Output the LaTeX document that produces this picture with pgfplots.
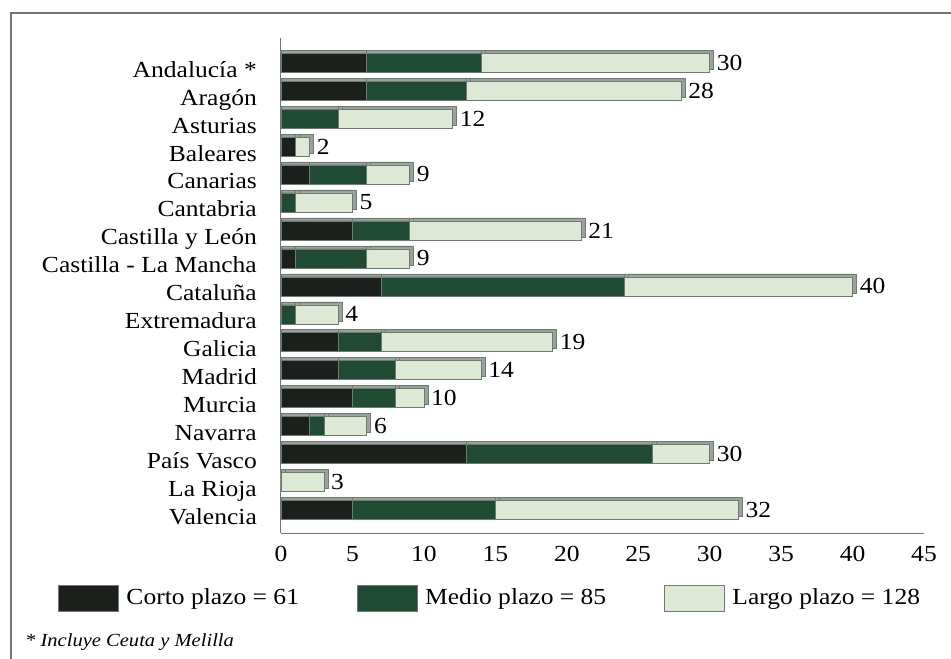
\documentclass[border=0pt]{standalone}
\usepackage{fontspec}
\setmainfont{Liberation Serif}[FakeStretch=1.11]
\usepackage{pgfplots}
\pgfplotsset{compat=1.18}
\definecolor{corto}{HTML}{1B201D}
\definecolor{medio}{HTML}{1F4A34}
\definecolor{largo}{HTML}{DDE8D5}
\definecolor{edge}{HTML}{6F7A72}
\begin{document}
\fontsize{23}{27}\selectfont
\begin{tikzpicture}
\useasboundingbox (0,0) rectangle (951pt,659pt);
\draw[edge, line width=1.2pt] (11pt,0) -- (11pt,646pt) -- (951pt,646pt);
\begin{axis}[
  at={(281pt,126pt)}, anchor=south west,
  scale only axis, width=643pt, height=495pt,
  xbar stacked, bar width=19pt,
  xmin=0, xmax=45, ymin=-0.88, ymax=16.82, y dir=reverse,
  axis x line*=bottom, axis y line*=left,
  axis line style={edge, line width=1pt, -},
  major tick length=0pt, tick style={draw=none},
  xtick={0,5,...,45},
  ytick={0,...,16},
  yticklabels={Andalucía *, Aragón, Asturias, Baleares, Canarias, Cantabria,
    Castilla y León, Castilla - La Mancha, Cataluña, Extremadura, Galicia,
    Madrid, Murcia, Navarra, País Vasco, La Rioja, Valencia},
  /pgf/number format/assume math mode=true,
  xticklabel style={inner sep=0pt, anchor=north, yshift=-13pt},
  yticklabel style={inner sep=0pt, anchor=east, xshift=-24pt,
    text height=16pt, text depth=5pt, yshift=-9pt},
  legend image code/.code={\path[draw=none, fill=none] (0pt,0pt) -- (66pt,0pt);
    \draw[#1] (0pt,-13pt) rectangle (60pt,13pt);},
  legend style={at={(axis cs:-15.6,19.15)}, anchor=west, draw=none, fill=none,
    inner sep=0pt, legend columns=3, cells={anchor=west},
    /tikz/every even column/.append style={column sep=56pt}},
  topface/.style={preaction={fill=edge!70, draw=edge,
    transform canvas={yshift=3pt}}},
  endcap/.style={preaction={fill=edge!70, draw=edge,
    transform canvas={xshift=4pt,yshift=3pt}}},
]
\addlegendimage{draw=edge, fill=corto}
\addlegendimage{draw=edge, fill=medio}
\addlegendimage{draw=edge, fill=largo}
% corto plazo
\addplot[topface, draw=edge, line width=0.6pt, fill=corto] coordinates {
  (6,0) (6,1) (0,2) (1,3) (2,4) (0,5) (5,6) (1,7) (7,8)
  (0,9) (4,10) (4,11) (5,12) (2,13) (13,14) (0,15) (5,16)};
% medio plazo
\addplot[topface, draw=edge, line width=0.6pt, fill=medio] coordinates {
  (8,0) (7,1) (4,2) (0,3) (4,4) (1,5) (4,6) (5,7) (17,8)
  (1,9) (3,10) (4,11) (3,12) (1,13) (13,14) (0,15) (10,16)};
% largo plazo; the label is the total of the row, moved to the bar's end
\addplot[topface, endcap, draw=edge, line width=0.6pt, fill=largo,
  nodes near coords, point meta=explicit symbolic,
  visualization depends on={rawx \as \segx},
  nodes near coords style={anchor=west, inner sep=0pt, text=black,
    xshift=\segx*7.144pt+7pt}]
  coordinates {
  (16,0) [30] (15,1) [28] (8,2) [12] (1,3) [2] (3,4) [9] (4,5) [5]
  (12,6) [21] (3,7) [9] (16,8) [40] (3,9) [4] (12,10) [19] (6,11) [14]
  (2,12) [10] (3,13) [6] (4,14) [30] (3,15) [3] (17,16) [32]};
\legend{Corto plazo = 61, Medio plazo = 85, Largo plazo = 128}
\end{axis}
\node[anchor=west, inner sep=0pt, font=\fontsize{18.5}{21}\selectfont\itshape]
  at (25pt,17pt) {* Incluye Ceuta y Melilla};
\end{tikzpicture}
\end{document}
